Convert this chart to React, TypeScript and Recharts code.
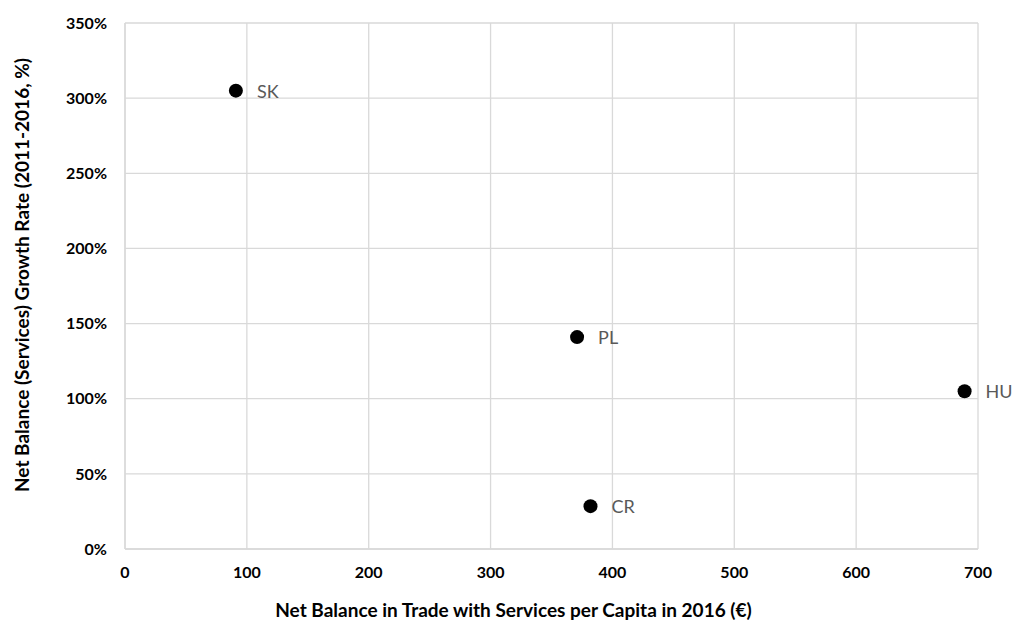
import { ScatterChart, Scatter, XAxis, YAxis, CartesianGrid, Label } from 'recharts'

// Datos
const countries = ['SK', 'PL', 'CR', 'HU']
const balancePerCapita = [91, 371, 382, 689]
const growthRate = [305, 141, 28.5, 105]

const xTicks = [0, 100, 200, 300, 400, 500, 600, 700]
const yTicks = [0, 50, 100, 150, 200, 250, 300, 350]

const xTitle = 'Net Balance in Trade with Services per Capita in 2016 (€)'
const yTitle = 'Net Balance (Services) Growth Rate (2011-2016, %)'

const FONT = 'Lato, "Open Sans", sans-serif'
const GRID = '#d9d9d9'

const data = countries.map((name, i) => ({
  name,
  x: balancePerCapita[i],
  y: growthRate[i],
}))

// Punto negro + etiqueta gris a la derecha
const PointWithLabel = (props: any) => {
  const { cx, cy, payload } = props
  return (
    <g>
      <circle cx={cx} cy={cy} r={7} fill="#000" />
      <text
        x={cx + 21}
        y={cy}
        dominantBaseline="central"
        fontFamily={FONT}
        fontSize={18}
        fill="#595959"
      >
        {payload.name}
      </text>
    </g>
  )
}

export default function App() {
  return (
    <div>
      <style>{`body{margin:0}`}</style>
      <ScatterChart
        width={1012}
        height={620}
        margin={{ top: 23, right: 34, bottom: 0, left: 0 }}
      >
        <CartesianGrid stroke={GRID} strokeWidth={1.3} />
        <XAxis
          type="number"
          dataKey="x"
          domain={[0, 700]}
          ticks={xTicks}
          height={71}
          tickSize={0}
          tickMargin={18}
          axisLine={{ stroke: GRID, strokeWidth: 1.3 }}
          tick={{ fontFamily: FONT, fontSize: 16, fontWeight: 700, fill: '#000' }}
        >
          <Label
            content={({ viewBox }: any) => (
              <text
                x={viewBox.x + viewBox.width / 2 - 38}
                y={617}
                textAnchor="middle"
                fontFamily={FONT}
                fontSize={19}
                fontWeight={700}
                fill="#000"
              >
                {xTitle}
              </text>
            )}
          />
        </XAxis>
        <YAxis
          type="number"
          dataKey="y"
          domain={[0, 350]}
          ticks={yTicks}
          width={125}
          tickSize={0}
          tickMargin={18}
          tickFormatter={(v: number) => `${v}%`}
          axisLine={{ stroke: GRID, strokeWidth: 1.3 }}
          tick={{ fontFamily: FONT, fontSize: 16, fontWeight: 700, fill: '#000' }}
        >
          <Label
            content={({ viewBox }: any) => {
              const cy = viewBox.y + viewBox.height / 2 - 11
              return (
                <text
                  x={21}
                  y={cy}
                  transform={`rotate(-90, 21, ${cy})`}
                  textAnchor="middle"
                  dominantBaseline="central"
                  fontFamily={FONT}
                  fontSize={19}
                  fontWeight={700}
                  fill="#000"
                >
                  {yTitle}
                </text>
              )
            }}
          />
        </YAxis>
        <Scatter data={data} shape={PointWithLabel} isAnimationActive={false} />
      </ScatterChart>
    </div>
  )
}
